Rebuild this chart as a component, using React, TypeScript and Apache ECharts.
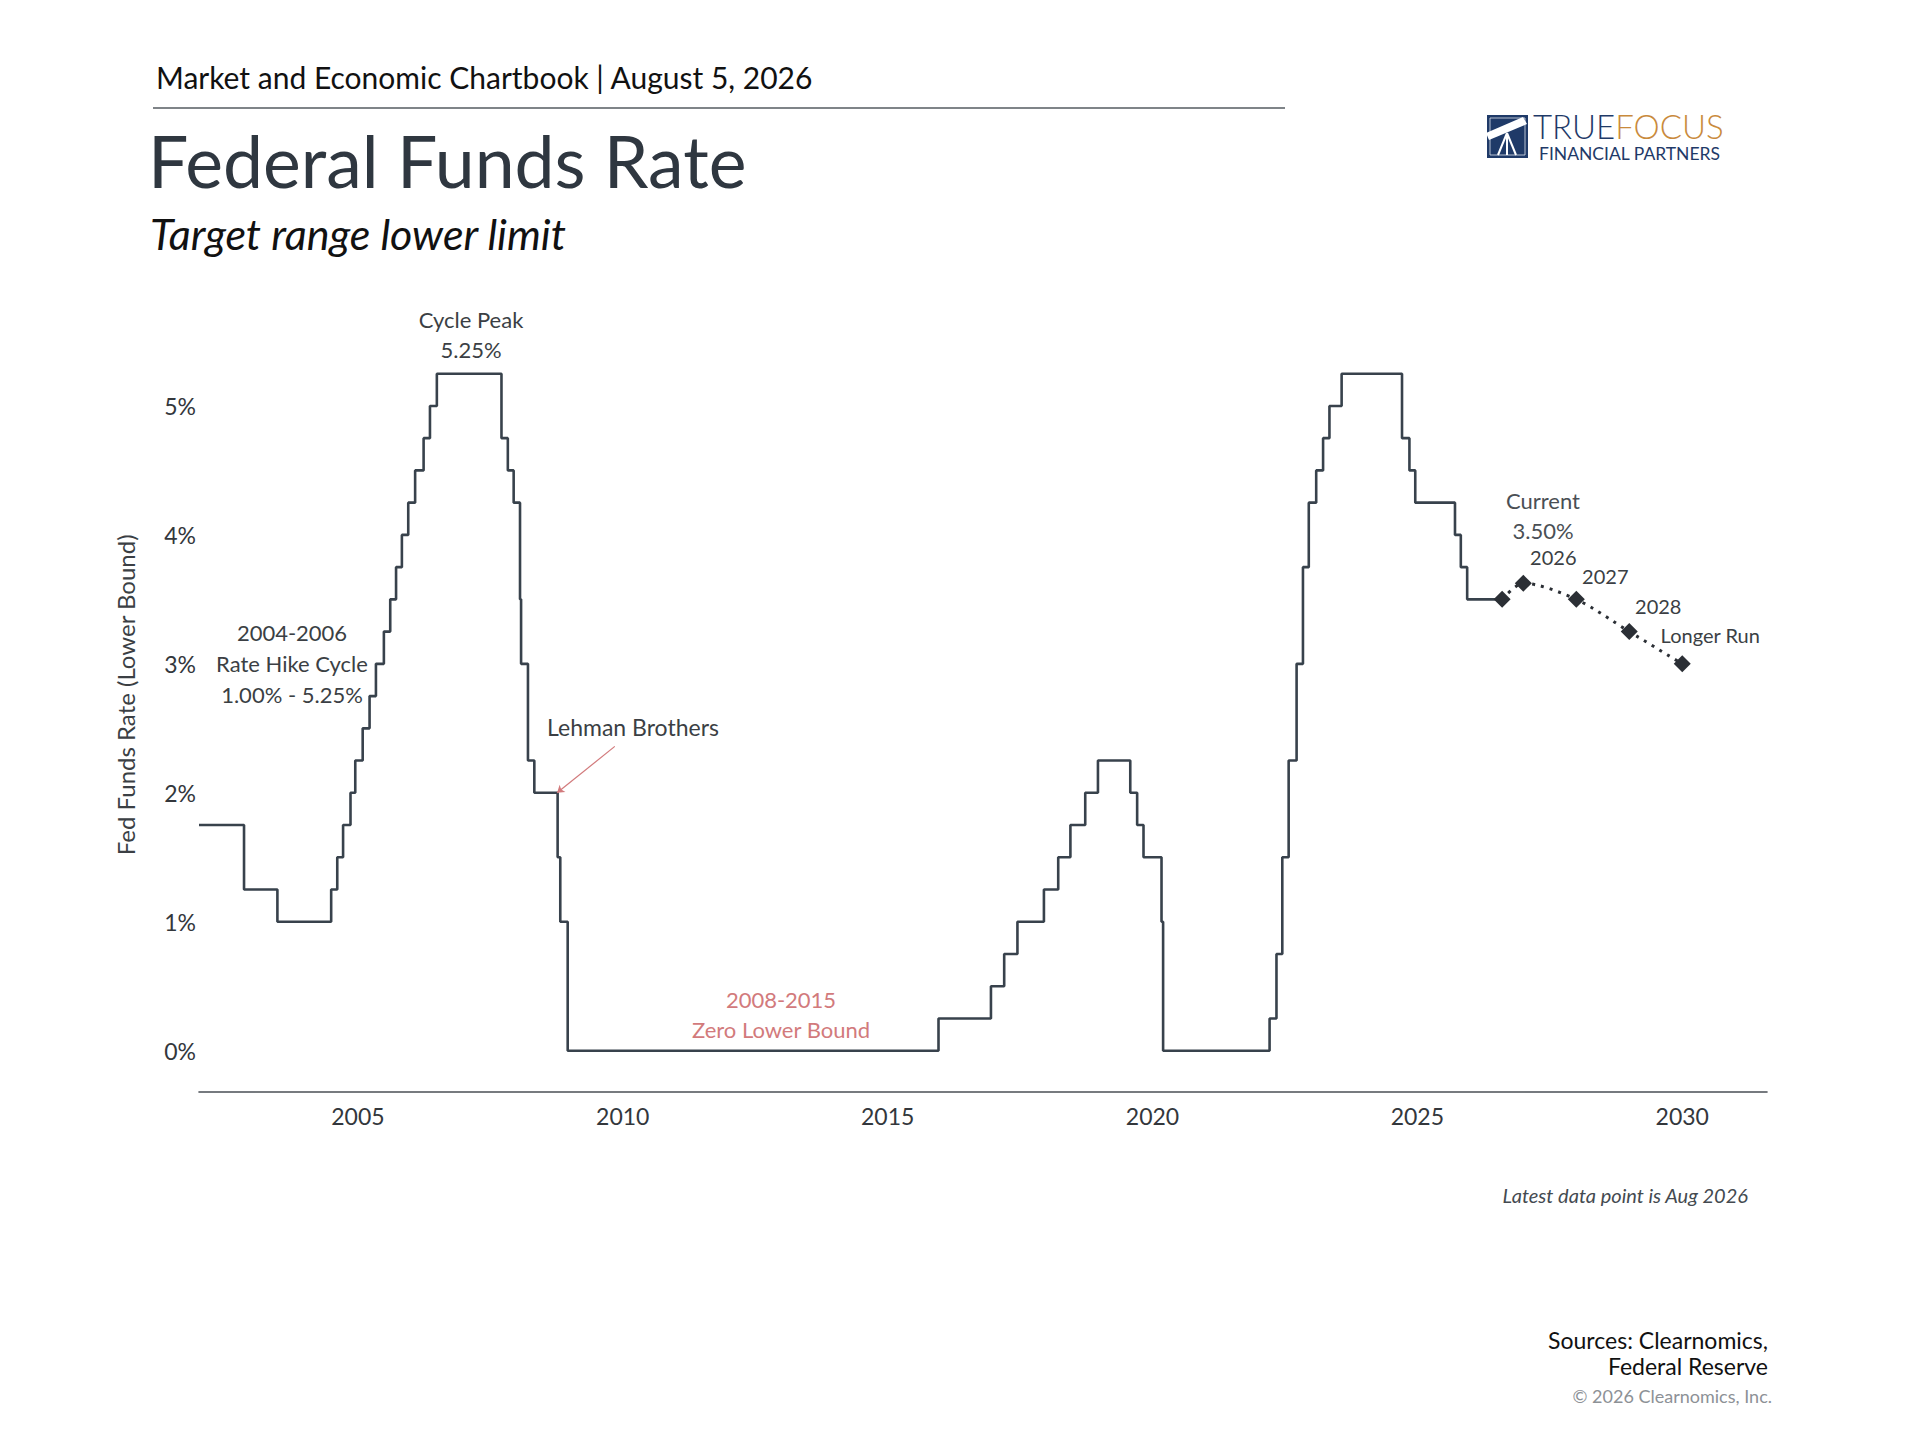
import React, { useEffect, useRef } from "react";
import * as echarts from "echarts";

// Fed funds target (lower bound) — date of change (decimal year) and new level (%)
const rateDates = [
  2002.0, 2002.85, 2003.48, 2004.495, 2004.61, 2004.72, 2004.86, 2004.95,
  2005.09, 2005.22, 2005.34, 2005.49, 2005.61, 2005.72, 2005.83, 2005.95,
  2006.08, 2006.24, 2006.36, 2006.49, 2007.71, 2007.83, 2007.94,
  2008.06, 2008.08, 2008.21, 2008.33, 2008.77, 2008.82, 2008.96,
  2015.96, 2016.95, 2017.2, 2017.45, 2017.95, 2018.22, 2018.45, 2018.73, 2018.97,
  2019.58, 2019.71, 2019.83, 2020.17, 2020.2,
  2022.21, 2022.34, 2022.45, 2022.57, 2022.72, 2022.84, 2022.95,
  2023.09, 2023.22, 2023.34, 2023.57, 2024.71, 2024.85, 2024.96,
  2025.71, 2025.82, 2025.94, 2026.6,
];
const rateValues = [
  1.75, 1.25, 1.0, 1.25, 1.5, 1.75, 2.0, 2.25,
  2.5, 2.75, 3.0, 3.25, 3.5, 3.75, 4.0, 4.25,
  4.5, 4.75, 5.0, 5.25, 4.75, 4.5, 4.25,
  3.5, 3.0, 2.25, 2.0, 1.5, 1.0, 0.0,
  0.25, 0.5, 0.75, 1.0, 1.25, 1.5, 1.75, 2.0, 2.25,
  2.0, 1.75, 1.5, 1.0, 0.0,
  0.25, 0.75, 1.5, 2.25, 3.0, 3.75, 4.25,
  4.5, 4.75, 5.0, 5.25, 4.75, 4.5, 4.25,
  4.0, 3.75, 3.5, 3.5,
];

// FOMC projections (median)
const projDates = [2026.6, 2027.0, 2028.0, 2029.0, 2030.0];
const projValues = [3.5, 3.625, 3.5, 3.25, 3.0];
const projLabels = ["", "2026", "2027", "2028", "Longer Run"];

const xTickYears = [2005, 2010, 2015, 2020, 2025, 2030];
const yTickValues = [0, 1, 2, 3, 4, 5];

const FONT = "Lato, 'Noto Sans', sans-serif";
const LINE = "#38424c";
const RED = "#d27a7c";

export default function App() {
  const ref = useRef<HTMLDivElement>(null);

  useEffect(() => {
    if (!ref.current) return;
    const chart = echarts.init(ref.current, undefined, { renderer: "svg" });

    const stepData = rateDates.map((d, i) => [d, rateValues[i]]);
    const projData = projDates.map((d, i) => [d, projValues[i]]);

    const txt = (x: number, y: number, text: string, opts: any = {}) => ({
      type: "text",
      x,
      y,
      silent: true,
      style: {
        text,
        fontFamily: FONT,
        fontSize: opts.size ?? 22,
        fill: opts.color ?? "#3b3f44",
        align: opts.align ?? "center",
        verticalAlign: opts.valign ?? "middle",
        fontStyle: opts.italic ? "italic" : "normal",
        fontWeight: opts.weight ?? "normal",
      },
    });

    chart.setOption({
      animation: false,
      backgroundColor: "#ffffff",
      grid: { left: 199, right: 153, top: 297.6, bottom: 348, containLabel: false },
      xAxis: {
        type: "value",
        min: 2002,
        max: 2031.6,
        splitLine: { show: false },
        axisTick: { show: false },
        axisLine: { show: true, onZero: false, lineStyle: { color: "#4a4f55", width: 1.6 } },
        axisLabel: {
          customValues: xTickYears,
          formatter: (v: number) => String(Math.round(v)),
          fontFamily: FONT,
          fontSize: 23,
          color: "#33373c",
          margin: 12,
        },
      },
      yAxis: {
        type: "value",
        min: -0.32,
        max: 5.84,
        splitLine: { show: false },
        axisTick: { show: false },
        axisLine: { show: false },
        name: "Fed Funds Rate (Lower Bound)",
        nameLocation: "middle",
        nameGap: 62,
        nameTextStyle: { fontFamily: FONT, fontSize: 24, color: "#3b3f44" },
        axisLabel: {
          customValues: yTickValues,
          formatter: (v: number) => `${Math.round(v)}%`,
          fontFamily: FONT,
          fontSize: 23,
          color: "#33373c",
          margin: 3,
        },
      },
      series: [
        {
          type: "line",
          step: "end",
          data: stepData,
          showSymbol: false,
          symbol: "none",
          lineStyle: { color: LINE, width: 2.6 },
          z: 2,
          markLine: {
            silent: true,
            symbol: ["none", "arrow"],
            symbolSize: 7,
            label: { show: false },
            lineStyle: { color: RED, width: 1.2, type: "solid" },
            data: [[{ coord: [2009.85, 2.36] }, { coord: [2008.76, 2.0] }]],
          },
        },
        {
          type: "line",
          data: projData,
          smooth: 0.3,
          symbol: "diamond",
          symbolSize: 17,
          itemStyle: { color: "#2b2f35" },
          lineStyle: { color: "#2b2f35", width: 3, type: [3, 6] },
          label: {
            show: true,
            position: "top",
            distance: 14,
            formatter: (p: any) => projLabels[p.dataIndex],
            fontFamily: FONT,
            fontSize: 20,
            color: "#3b3f44",
          },
          labelLayout: (p: any) => {
            if (p.dataIndex === 4) return { dx: 28, dy: 4 };
            if (p.dataIndex === 1) return { dx: 30, dy: 6 };
            if (p.dataIndex === 2) return { dx: 29, dy: 9 };
            if (p.dataIndex === 3) return { dx: 29, dy: 7 };
            return {};
          },
          z: 3,
        },
      ],
      graphic: [
        // header
        txt(156, 77, "Market and Economic Chartbook | August 5, 2026", {
          size: 30, color: "#111111", align: "left",
        }),
        {
          type: "line",
          shape: { x1: 153, y1: 108, x2: 1285, y2: 108 },
          style: { stroke: "#555b61", lineWidth: 1.5 },
        },
        txt(148, 160, "Federal Funds Rate", { size: 71.5, color: "#2f3740", align: "left" }),
        txt(150, 233, "Target range lower limit", {
          size: 43, color: "#111111", align: "left", italic: true,
        }),
        // logo
        {
          type: "group",
          children: [
            { type: "rect", shape: { x: 1487, y: 115, width: 41, height: 43 }, style: { fill: "#1f3a68" } },
            { type: "rect", shape: { x: 1490, y: 118, width: 35, height: 37 }, style: { fill: "none", stroke: "#dfe5ee", lineWidth: 0.8 } },
            {
              type: "polygon",
              shape: { points: [[1486, 133], [1523, 117], [1527, 124], [1489, 140]] },
              style: { fill: "#ffffff" },
            },
            { type: "line", shape: { x1: 1507, y1: 133, x2: 1498, y2: 155 }, style: { stroke: "#ffffff", lineWidth: 2 } },
            { type: "line", shape: { x1: 1507, y1: 133, x2: 1507, y2: 155 }, style: { stroke: "#ffffff", lineWidth: 2 } },
            { type: "line", shape: { x1: 1507, y1: 133, x2: 1516, y2: 155 }, style: { stroke: "#ffffff", lineWidth: 2 } },
          ],
        },
        {
          type: "text",
          x: 1533,
          y: 126,
          style: {
            text: "{a|TRUE}{b|FOCUS}",
            rich: {
              a: { fontFamily: FONT, fontSize: 33, fill: "#1f3a68", fontWeight: 300 },
              b: { fontFamily: FONT, fontSize: 33, fill: "#c98a3c", fontWeight: 300 },
            },
            verticalAlign: "middle",
            align: "left",
          },
        },
        txt(1539, 153, "FINANCIAL PARTNERS", { size: 17.5, color: "#1f3a68", align: "left" }),
        // annotations
        txt(471, 319, "Cycle Peak", { size: 22 }),
        txt(471, 349, "5.25%", { size: 22 }),
        txt(292, 632, "2004-2006", { size: 22 }),
        txt(292, 663, "Rate Hike Cycle", { size: 22 }),
        txt(292, 694, "1.00% - 5.25%", { size: 22 }),
        txt(633, 727, "Lehman Brothers", { size: 23 }),
        txt(781, 999, "2008-2015", { size: 22, color: RED }),
        txt(781, 1029, "Zero Lower Bound", { size: 22, color: RED }),
        txt(1543, 500, "Current", { size: 22, color: "#4a4f55" }),
        txt(1543, 530, "3.50%", { size: 22, color: "#4a4f55" }),
        // footer
        txt(1748, 1195, "Latest data point is Aug 2026", {
          size: 20, color: "#444a50", align: "right", italic: true,
        }),
        txt(1768, 1340, "Sources: Clearnomics,", { size: 23, color: "#111111", align: "right" }),
        txt(1768, 1366, "Federal Reserve", { size: 23, color: "#111111", align: "right" }),
        txt(1772, 1396, "© 2026 Clearnomics, Inc.", { size: 18, color: "#8d9196", align: "right" }),
      ],
    });

    return () => chart.dispose();
  }, []);

  return (
    <div
      ref={ref}
      style={{ position: "fixed", left: 0, top: 0, width: 1920, height: 1440, background: "#fff" }}
    />
  );
}
